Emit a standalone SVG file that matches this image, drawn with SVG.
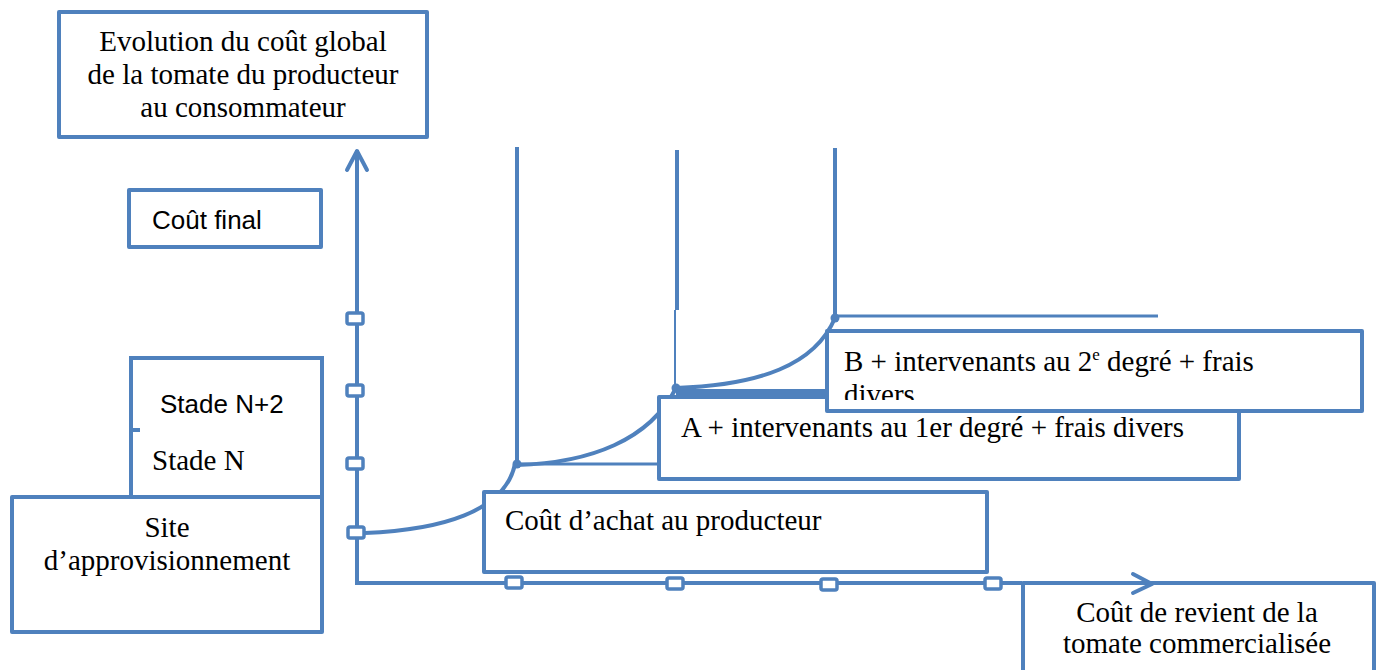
<svg xmlns="http://www.w3.org/2000/svg" width="1381" height="670" viewBox="0 0 1381 670">
<style>
.box{fill:#fff;stroke:#4F81BD;stroke-width:4;stroke-linejoin:round}
.ln{fill:none;stroke:#4F81BD;stroke-width:4}
.mk{fill:#fff;stroke:#4F81BD;stroke-width:3.5}
.dot{fill:#4F81BD}
.serif{font-family:"Liberation Serif","Times New Roman",serif;font-size:29px;fill:#000}
.sans{font-family:"Liberation Sans",Arial,sans-serif;font-size:26px;fill:#000}
</style>
<defs>
<clipPath id="clipB"><rect x="828" y="333" width="533" height="67"/></clipPath>
</defs>
<rect width="1381" height="670" fill="#fff"/>

<g id="connectors">
  <!-- axes -->
  <path class="ln" d="M357,150 L357,583 L1022,583"/>
  <!-- vertical guides -->
  <line class="ln" x1="517" y1="147" x2="517" y2="464"/>
  <line class="ln" x1="677" y1="150" x2="677" y2="310"/>
  <line class="ln" x1="675" y1="310" x2="675" y2="388" style="stroke-width:2"/>
  <line class="ln" x1="835" y1="148" x2="835" y2="316"/>
  <line class="ln" x1="835" y1="316" x2="1158" y2="316" style="stroke-width:3"/>
  <!-- horizontal steps -->
  <line class="ln" x1="517" y1="464" x2="658" y2="464" style="stroke-width:3"/>
  <line class="ln" x1="676" y1="393" x2="828" y2="393" style="stroke-width:8"/>
  <!-- curves -->
  <path class="ln" d="M365,533 C440,530 505,512 515,464"/>
  <path class="ln" d="M517,465 C590,463 650,440 676,388"/>
  <path class="ln" d="M676,388 C760,385 815,365 835,318"/>
  <circle class="dot" cx="517" cy="464" r="4.5"/>
  <circle class="dot" cx="676" cy="388" r="4.5"/>
  <circle class="dot" cx="835" cy="318" r="4.5"/>
</g>

<g id="title">
  <rect class="box" x="59" y="12" width="368" height="125"/>
  <text class="serif" text-anchor="middle" x="243" y="51">Evolution du coût global</text>
  <text class="serif" text-anchor="middle" x="243" y="84">de la tomate du producteur</text>
  <text class="serif" text-anchor="middle" x="243" y="117">au consommateur</text>
</g>

<g id="cout-final">
  <rect class="box" x="129" y="190" width="192" height="57"/>
  <text class="sans" x="152" y="229">Coût final</text>
</g>

<g id="stades">
  <path class="ln" d="M131,497 L131,358 L322,358 L322,497"/>
  <line class="ln" x1="131" y1="430" x2="140" y2="430"/>
  <text class="sans" x="160" y="413">Stade N+2</text>
  <text class="serif" x="152" y="470">Stade N</text>
</g>

<g id="site">
  <rect class="box" x="12" y="497" width="310" height="135"/>
  <text class="serif" text-anchor="middle" x="167" y="537">Site</text>
  <text class="serif" text-anchor="middle" x="167" y="570">d’approvisionnement</text>
</g>

<g id="cout-achat">
  <rect class="box" x="484" y="492" width="503" height="80"/>
  <text class="serif" x="505" y="530">Coût d’achat au producteur</text>
</g>

<g id="etape-a">
  <rect class="box" x="659" y="397" width="580" height="82"/>
  <text class="serif" x="681" y="437">A + intervenants au 1er degré + frais divers</text>
</g>

<g id="etape-b">
  <rect class="box" x="827" y="331" width="535" height="80"/>
  <g clip-path="url(#clipB)">
    <text class="serif" x="844" y="371">B + intervenants au 2<tspan font-size="17" dy="-11">e</tspan><tspan dy="11"> degré + frais</tspan></text>
    <text class="serif" x="844" y="404">divers</text>
  </g>
</g>

<g id="cout-revient">
  <rect class="box" x="1023" y="583" width="351" height="100"/>
  <text class="serif" text-anchor="middle" x="1197" y="622">Coût de revient de la</text>
  <text class="serif" text-anchor="middle" x="1197" y="653">tomate commercialisée</text>
</g>

<g id="axis-marks">
  <path class="ln" d="M347,170 L357,151 L367,170" stroke-linejoin="round" stroke-linecap="round"/>
  <path class="ln" d="M1133,574 L1152,584 L1133,593" stroke-linejoin="round" stroke-linecap="round"/>
  <rect class="mk" x="347" y="313" width="16" height="11" rx="2"/>
  <rect class="mk" x="347" y="385" width="16" height="11" rx="2"/>
  <rect class="mk" x="347" y="458" width="16" height="11" rx="2"/>
  <rect class="mk" x="348" y="527" width="16" height="11" rx="2"/>
  <rect class="mk" x="506" y="577" width="16" height="11" rx="2"/>
  <rect class="mk" x="667" y="578" width="16" height="11" rx="2"/>
  <rect class="mk" x="821" y="579" width="16" height="11" rx="2"/>
  <rect class="mk" x="985" y="578" width="16" height="11" rx="2"/>
</g>
</svg>
